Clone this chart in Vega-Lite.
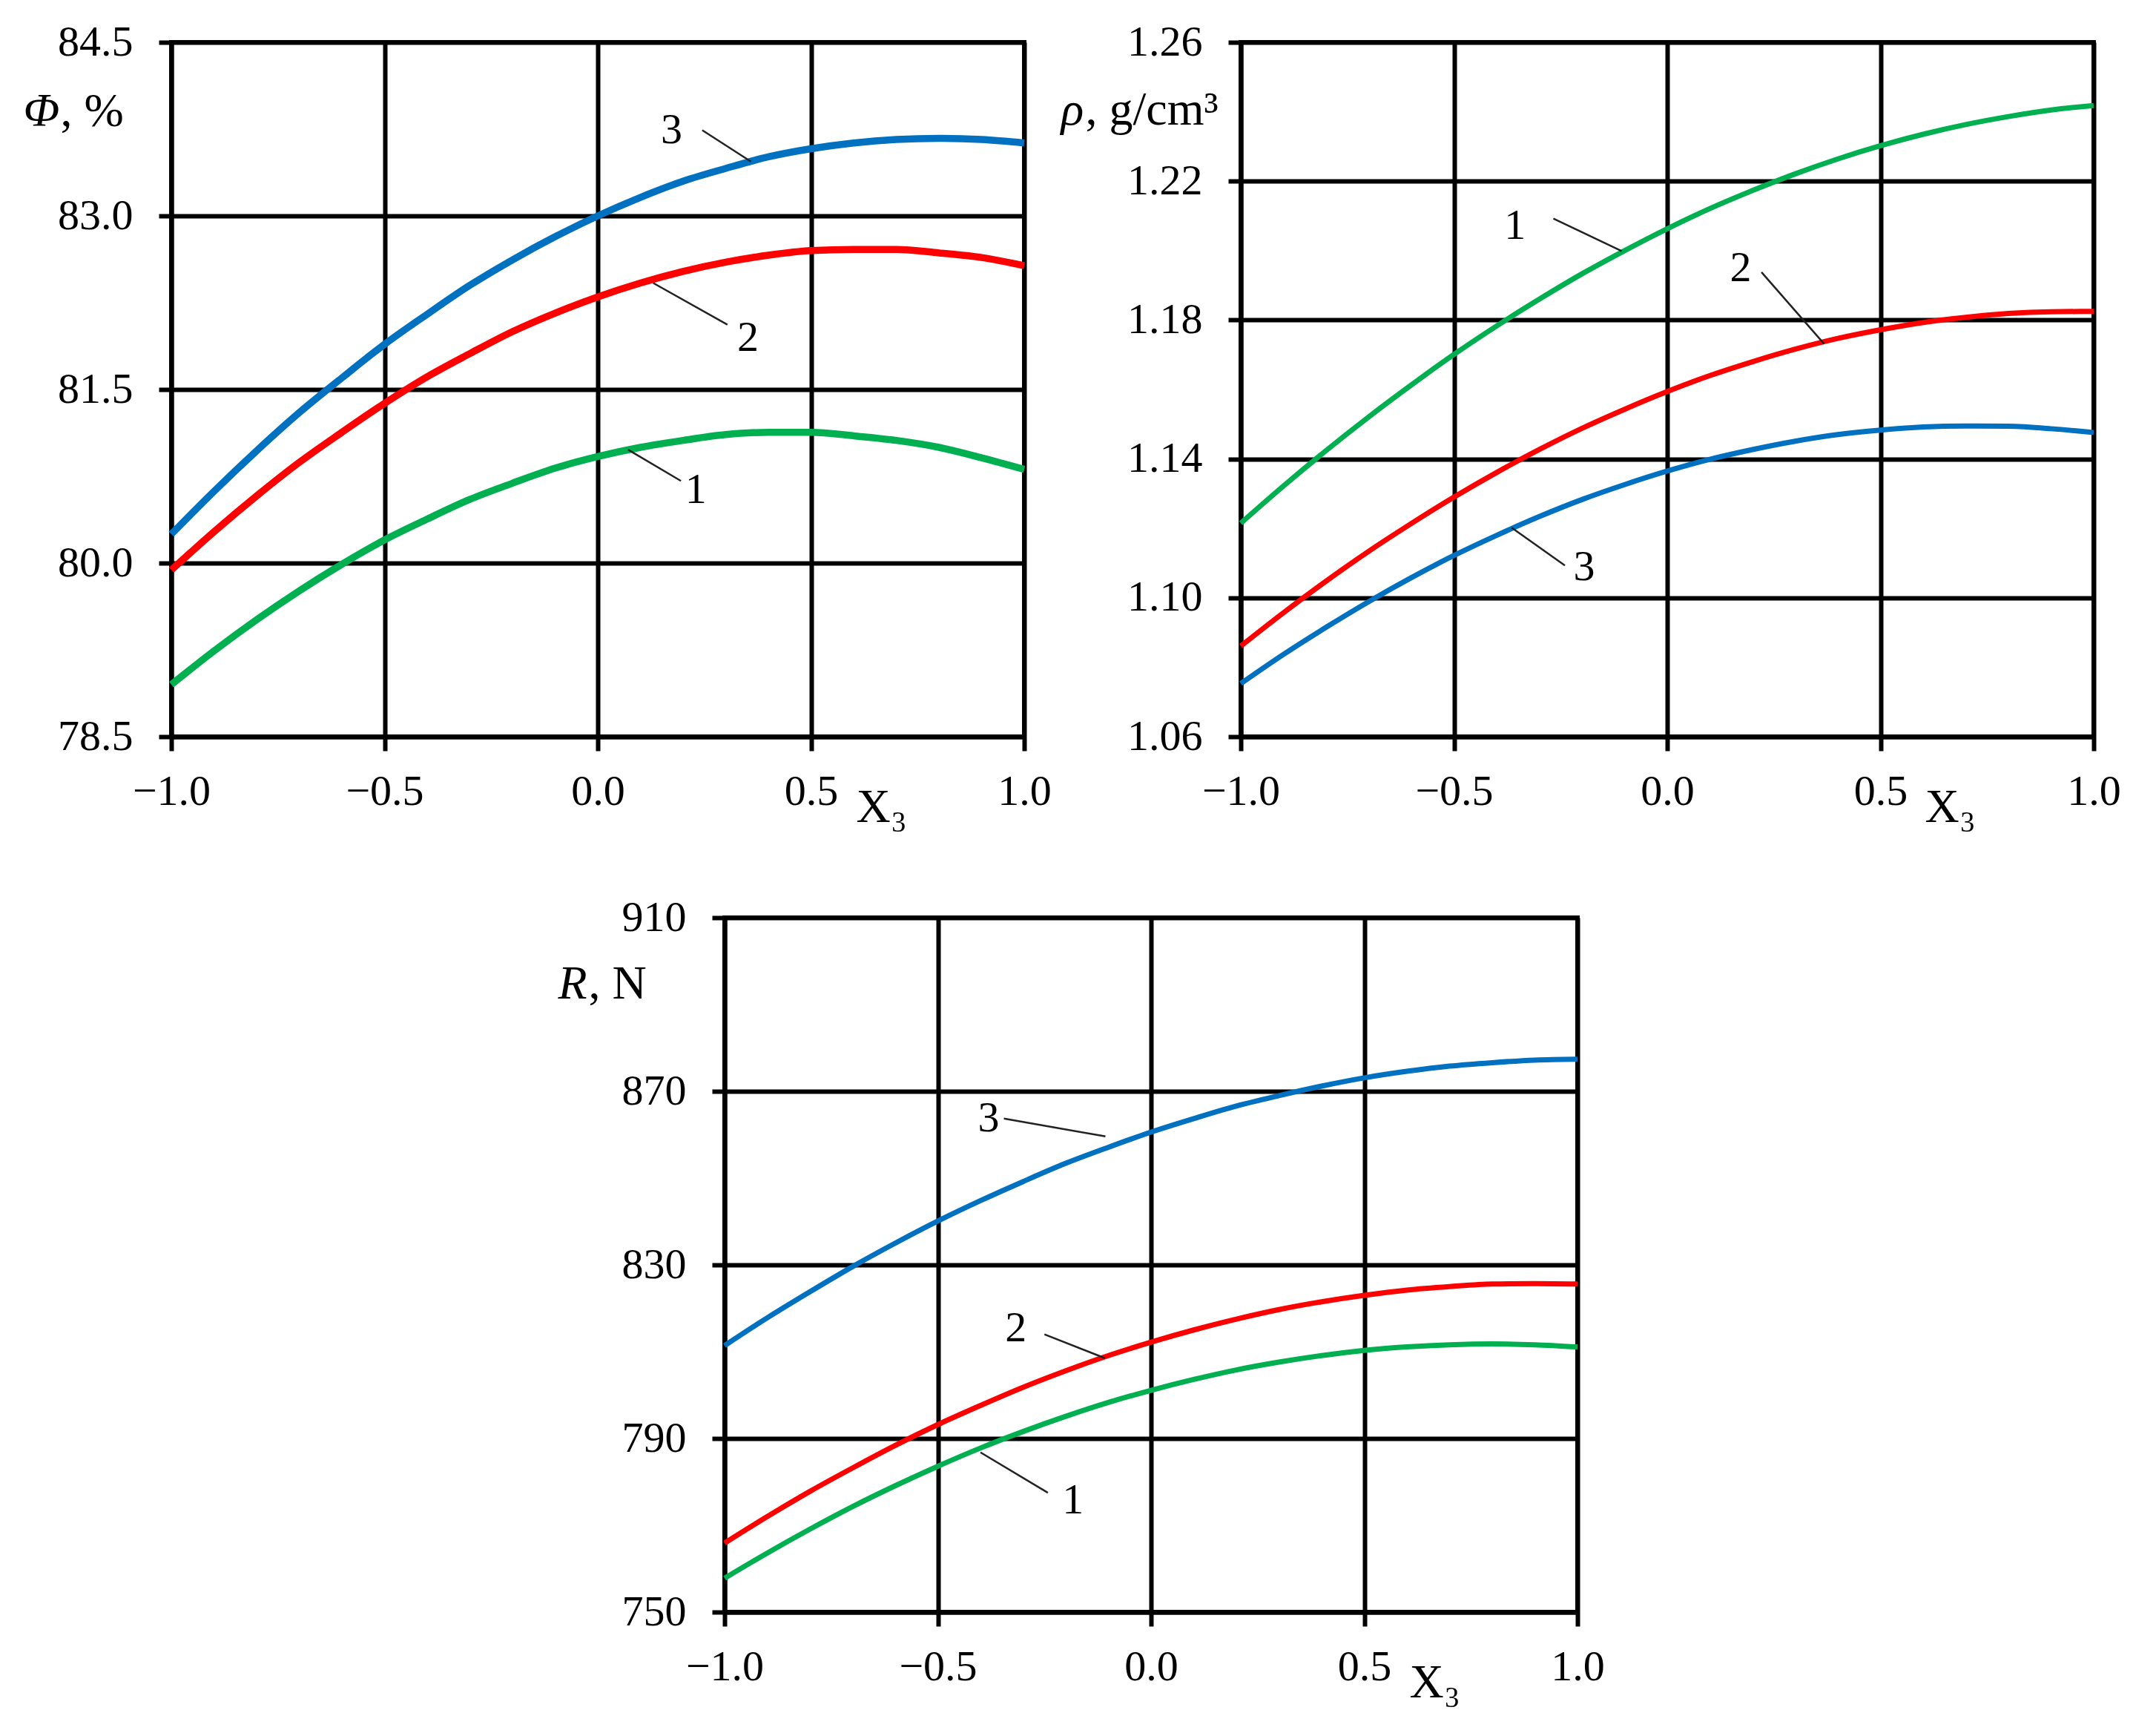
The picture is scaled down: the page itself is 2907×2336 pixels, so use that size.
{
  "$schema": "https://vega.github.io/schema/vega-lite/v6.json",
  "background": "white",
  "padding": {"left": 28, "top": 25, "right": 20, "bottom": 20},
  "config": {
    "font": "Liberation Serif",
    "view": {"stroke": "black", "strokeWidth": 6},
    "axis": {
      "labelFont": "Liberation Serif", "labelFontSize": 58, "labelColor": "black",
      "titleFont": "Liberation Serif", "titleFontSize": 64, "titleFontWeight": "normal", "titleColor": "black",
      "domainColor": "black", "domainWidth": 6,
      "tickColor": "black", "tickWidth": 6,
      "gridColor": "black", "gridWidth": 6, "gridOpacity": 1,
      "titleAngle": 0, "titleAlign": "left", "titleBaseline": "alphabetic",
      "labelOverlap": false, "labelFlush": false
    },
    "axisX": {"tickSize": 19, "labelPadding": 26},
    "axisY": {"tickSize": 17, "labelPadding": 35, "labelBaseline": "middle"}
  },
  "datasets": {
    "phi": [
      {"x":-1,"y":78.95,"c":"1"},{"x":-0.9,"y":79.24,"c":"1"},{"x":-0.8,"y":79.51,"c":"1"},{"x":-0.7,"y":79.76,"c":"1"},{"x":-0.6,"y":79.99,"c":"1"},{"x":-0.5,"y":80.20,"c":"1"},{"x":-0.4,"y":80.38,"c":"1"},{"x":-0.3,"y":80.55,"c":"1"},{"x":-0.2,"y":80.69,"c":"1"},{"x":-0.1,"y":80.82,"c":"1"},{"x":0,"y":80.92,"c":"1"},{"x":0.1,"y":81.00,"c":"1"},{"x":0.2,"y":81.06,"c":"1"},{"x":0.3,"y":81.11,"c":"1"},{"x":0.4,"y":81.13,"c":"1"},{"x":0.5,"y":81.13,"c":"1"},{"x":0.6,"y":81.10,"c":"1"},{"x":0.7,"y":81.06,"c":"1"},{"x":0.8,"y":81.00,"c":"1"},{"x":0.9,"y":80.91,"c":"1"},{"x":1,"y":80.81,"c":"1"},
      {"x":-1,"y":79.94,"c":"2"},{"x":-0.9,"y":80.27,"c":"2"},{"x":-0.8,"y":80.58,"c":"2"},{"x":-0.7,"y":80.87,"c":"2"},{"x":-0.6,"y":81.13,"c":"2"},{"x":-0.5,"y":81.38,"c":"2"},{"x":-0.4,"y":81.61,"c":"2"},{"x":-0.3,"y":81.81,"c":"2"},{"x":-0.2,"y":82.00,"c":"2"},{"x":-0.1,"y":82.16,"c":"2"},{"x":0,"y":82.30,"c":"2"},{"x":0.1,"y":82.42,"c":"2"},{"x":0.2,"y":82.52,"c":"2"},{"x":0.3,"y":82.60,"c":"2"},{"x":0.4,"y":82.66,"c":"2"},{"x":0.5,"y":82.70,"c":"2"},{"x":0.6,"y":82.71,"c":"2"},{"x":0.7,"y":82.71,"c":"2"},{"x":0.8,"y":82.68,"c":"2"},{"x":0.9,"y":82.64,"c":"2"},{"x":1,"y":82.57,"c":"2"},
      {"x":-1,"y":80.25,"c":"3"},{"x":-0.9,"y":80.62,"c":"3"},{"x":-0.8,"y":80.97,"c":"3"},{"x":-0.7,"y":81.30,"c":"3"},{"x":-0.6,"y":81.60,"c":"3"},{"x":-0.5,"y":81.89,"c":"3"},{"x":-0.4,"y":82.15,"c":"3"},{"x":-0.3,"y":82.40,"c":"3"},{"x":-0.2,"y":82.62,"c":"3"},{"x":-0.1,"y":82.82,"c":"3"},{"x":0,"y":83.00,"c":"3"},{"x":0.1,"y":83.16,"c":"3"},{"x":0.2,"y":83.30,"c":"3"},{"x":0.3,"y":83.41,"c":"3"},{"x":0.4,"y":83.51,"c":"3"},{"x":0.5,"y":83.58,"c":"3"},{"x":0.6,"y":83.63,"c":"3"},{"x":0.7,"y":83.66,"c":"3"},{"x":0.8,"y":83.67,"c":"3"},{"x":0.9,"y":83.66,"c":"3"},{"x":1,"y":83.63,"c":"3"}
    ],
    "rho": [
      {"x":-1,"y":1.1215,"c":"1"},{"x":-0.9,"y":1.1322,"c":"1"},{"x":-0.8,"y":1.1424,"c":"1"},{"x":-0.7,"y":1.1521,"c":"1"},{"x":-0.6,"y":1.1613,"c":"1"},{"x":-0.5,"y":1.1701,"c":"1"},{"x":-0.4,"y":1.1783,"c":"1"},{"x":-0.3,"y":1.1860,"c":"1"},{"x":-0.2,"y":1.1933,"c":"1"},{"x":-0.1,"y":1.2000,"c":"1"},{"x":0,"y":1.2063,"c":"1"},{"x":0.1,"y":1.2121,"c":"1"},{"x":0.2,"y":1.2173,"c":"1"},{"x":0.3,"y":1.2221,"c":"1"},{"x":0.4,"y":1.2264,"c":"1"},{"x":0.5,"y":1.2302,"c":"1"},{"x":0.6,"y":1.2335,"c":"1"},{"x":0.7,"y":1.2363,"c":"1"},{"x":0.8,"y":1.2386,"c":"1"},{"x":0.9,"y":1.2405,"c":"1"},{"x":1,"y":1.2418,"c":"1"},
      {"x":-1,"y":1.0861,"c":"2"},{"x":-0.9,"y":1.0957,"c":"2"},{"x":-0.8,"y":1.1048,"c":"2"},{"x":-0.7,"y":1.1134,"c":"2"},{"x":-0.6,"y":1.1214,"c":"2"},{"x":-0.5,"y":1.1290,"c":"2"},{"x":-0.4,"y":1.1361,"c":"2"},{"x":-0.3,"y":1.1427,"c":"2"},{"x":-0.2,"y":1.1488,"c":"2"},{"x":-0.1,"y":1.1543,"c":"2"},{"x":0,"y":1.1594,"c":"2"},{"x":0.1,"y":1.1640,"c":"2"},{"x":0.2,"y":1.1680,"c":"2"},{"x":0.3,"y":1.1716,"c":"2"},{"x":0.4,"y":1.1747,"c":"2"},{"x":0.5,"y":1.1772,"c":"2"},{"x":0.6,"y":1.1793,"c":"2"},{"x":0.7,"y":1.1808,"c":"2"},{"x":0.8,"y":1.1819,"c":"2"},{"x":0.9,"y":1.1824,"c":"2"},{"x":1,"y":1.1825,"c":"2"},
      {"x":-1,"y":1.0753,"c":"3"},{"x":-0.9,"y":1.0837,"c":"3"},{"x":-0.8,"y":1.0915,"c":"3"},{"x":-0.7,"y":1.0989,"c":"3"},{"x":-0.6,"y":1.1058,"c":"3"},{"x":-0.5,"y":1.1122,"c":"3"},{"x":-0.4,"y":1.1180,"c":"3"},{"x":-0.3,"y":1.1234,"c":"3"},{"x":-0.2,"y":1.1283,"c":"3"},{"x":-0.1,"y":1.1326,"c":"3"},{"x":0,"y":1.1365,"c":"3"},{"x":0.1,"y":1.1399,"c":"3"},{"x":0.2,"y":1.1427,"c":"3"},{"x":0.3,"y":1.1451,"c":"3"},{"x":0.4,"y":1.1470,"c":"3"},{"x":0.5,"y":1.1483,"c":"3"},{"x":0.6,"y":1.1492,"c":"3"},{"x":0.7,"y":1.1495,"c":"3"},{"x":0.8,"y":1.1494,"c":"3"},{"x":0.9,"y":1.1487,"c":"3"},{"x":1,"y":1.1476,"c":"3"}
    ],
    "force": [
      {"x":-1,"y":757.8,"c":"1"},{"x":-0.9,"y":763.6,"c":"1"},{"x":-0.8,"y":769.1,"c":"1"},{"x":-0.7,"y":774.3,"c":"1"},{"x":-0.6,"y":779.1,"c":"1"},{"x":-0.5,"y":783.6,"c":"1"},{"x":-0.4,"y":787.8,"c":"1"},{"x":-0.3,"y":791.6,"c":"1"},{"x":-0.2,"y":795.1,"c":"1"},{"x":-0.1,"y":798.3,"c":"1"},{"x":0,"y":801.1,"c":"1"},{"x":0.1,"y":803.6,"c":"1"},{"x":0.2,"y":805.8,"c":"1"},{"x":0.3,"y":807.6,"c":"1"},{"x":0.4,"y":809.1,"c":"1"},{"x":0.5,"y":810.3,"c":"1"},{"x":0.6,"y":811.1,"c":"1"},{"x":0.7,"y":811.6,"c":"1"},{"x":0.8,"y":811.8,"c":"1"},{"x":0.9,"y":811.6,"c":"1"},{"x":1,"y":811.1,"c":"1"},
      {"x":-1,"y":765.9,"c":"2"},{"x":-0.9,"y":772.0,"c":"2"},{"x":-0.8,"y":777.8,"c":"2"},{"x":-0.7,"y":783.2,"c":"2"},{"x":-0.6,"y":788.4,"c":"2"},{"x":-0.5,"y":793.2,"c":"2"},{"x":-0.4,"y":797.6,"c":"2"},{"x":-0.3,"y":801.8,"c":"2"},{"x":-0.2,"y":805.6,"c":"2"},{"x":-0.1,"y":809.1,"c":"2"},{"x":0,"y":812.2,"c":"2"},{"x":0.1,"y":815.0,"c":"2"},{"x":0.2,"y":817.5,"c":"2"},{"x":0.3,"y":819.7,"c":"2"},{"x":0.4,"y":821.5,"c":"2"},{"x":0.5,"y":823.0,"c":"2"},{"x":0.6,"y":824.2,"c":"2"},{"x":0.7,"y":825.0,"c":"2"},{"x":0.8,"y":825.6,"c":"2"},{"x":0.9,"y":825.7,"c":"2"},{"x":1,"y":825.6,"c":"2"},
      {"x":-1,"y":811.4,"c":"3"},{"x":-0.9,"y":817.8,"c":"3"},{"x":-0.8,"y":823.8,"c":"3"},{"x":-0.7,"y":829.6,"c":"3"},{"x":-0.6,"y":835.0,"c":"3"},{"x":-0.5,"y":840.1,"c":"3"},{"x":-0.4,"y":844.8,"c":"3"},{"x":-0.3,"y":849.2,"c":"3"},{"x":-0.2,"y":853.4,"c":"3"},{"x":-0.1,"y":857.1,"c":"3"},{"x":0,"y":860.6,"c":"3"},{"x":0.1,"y":863.7,"c":"3"},{"x":0.2,"y":866.6,"c":"3"},{"x":0.3,"y":869.0,"c":"3"},{"x":0.4,"y":871.2,"c":"3"},{"x":0.5,"y":873.1,"c":"3"},{"x":0.6,"y":874.6,"c":"3"},{"x":0.7,"y":875.8,"c":"3"},{"x":0.8,"y":876.6,"c":"3"},{"x":0.9,"y":877.2,"c":"3"},{"x":1,"y":877.4,"c":"3"}
    ],
    "phiNotes": [{"x":0.173,"y":83.74,"t":"3"},{"x":0.352,"y":81.94,"t":"2"},{"x":0.230,"y":80.63,"t":"1"}],
    "phiLeads": [{"x":0.245,"y":83.74,"x2":0.359,"y2":83.47},{"x":0.304,"y":82.06,"x2":0.130,"y2":82.42},{"x":0.195,"y":80.71,"x2":0.071,"y2":80.98}],
    "rhoNotes": [{"x":-0.357,"y":1.2070,"t":"1"},{"x":0.172,"y":1.1949,"t":"2"},{"x":-0.195,"y":1.1088,"t":"3"}],
    "rhoLeads": [{"x":-0.267,"y":1.2092,"x2":-0.107,"y2":1.1999},{"x":0.221,"y":1.1938,"x2":0.368,"y2":1.1731},{"x":-0.240,"y":1.1093,"x2":-0.365,"y2":1.1202}],
    "forceNotes": [{"x":-0.381,"y":863.7,"t":"3"},{"x":-0.317,"y":815.3,"t":"2"},{"x":-0.183,"y":775.6,"t":"1"}],
    "forceLeads": [{"x":-0.345,"y":863.7,"x2":-0.107,"y2":859.6},{"x":-0.25,"y":814.0,"x2":-0.108,"y2":808.5},{"x":-0.242,"y":777.5,"x2":-0.40,"y2":786.8}]
  },
  "vconcat": [
    {
      "bounds": "flush",
      "spacing": 292,
      "hconcat": [
        {
          "width": 1150,
          "height": 936,
          "layer": [
            {
              "data": {"name": "phi"},
              "mark": {"type": "line", "strokeWidth": 9.5, "interpolate": "monotone"},
              "encoding": {
                "x": {"field": "x", "type": "quantitative", "scale": {"domain": [-1, 1], "nice": false},
                      "axis": {"values": [-1, -0.5, 0, 0.5, 1], "format": ".1f", "title": "X₃", "titleX": 923, "titleY": 114}},
                "y": {"field": "y", "type": "quantitative", "scale": {"domain": [78.5, 84.5], "nice": false, "zero": false},
                      "axis": {"orient": "left", "values": [78.5, 80, 81.5, 83, 84.5], "format": ".1f", "title": ", %", "titleX": -150, "titleY": 112}},
                "color": {"field": "c", "type": "nominal", "legend": null,
                          "scale": {"domain": ["1", "2", "3"], "range": ["#00B050", "#FF0000", "#0070C0"]}}
              }
            },
            {
              "data": {"name": "phiLeads"},
              "mark": {"type": "rule", "strokeWidth": 2.5, "color": "#222222"},
              "encoding": {
                "x": {"field": "x", "type": "quantitative"},
                "y": {"field": "y", "type": "quantitative", "axis": null},
                "x2": {"field": "x2"},
                "y2": {"field": "y2"}
              }
            },
            {
              "data": {"name": "phiNotes"},
              "mark": {"type": "text", "fontSize": 58, "color": "black", "baseline": "middle", "align": "center"},
              "encoding": {
                "x": {"field": "x", "type": "quantitative"},
                "y": {"field": "y", "type": "quantitative",
                      "axis": {"orient": "left", "title": "Φ", "titleFontStyle": "italic", "titleX": -200, "titleY": 112,
                               "labels": false, "ticks": false, "domain": false, "grid": false}},
                "text": {"field": "t"}
              }
            }
          ],
          "resolve": {"axis": {"y": "independent"}}
        },
        {
          "width": 1150,
          "height": 936,
          "layer": [
            {
              "data": {"name": "rho"},
              "mark": {"type": "line", "strokeWidth": 7, "interpolate": "monotone"},
              "encoding": {
                "x": {"field": "x", "type": "quantitative", "scale": {"domain": [-1, 1], "nice": false},
                      "axis": {"values": [-1, -0.5, 0, 0.5, 1], "format": ".1f", "title": "X₃", "titleX": 922, "titleY": 114}},
                "y": {"field": "y", "type": "quantitative", "scale": {"domain": [1.06, 1.26], "nice": false, "zero": false},
                      "axis": {"orient": "left", "values": [1.06, 1.10, 1.14, 1.18, 1.22, 1.26], "format": ".2f", "title": ", g/cm³", "titleX": -210, "titleY": 110}},
                "color": {"field": "c", "type": "nominal", "legend": null,
                          "scale": {"domain": ["1", "2", "3"], "range": ["#00B050", "#FF0000", "#0070C0"]}}
              }
            },
            {
              "data": {"name": "rhoLeads"},
              "mark": {"type": "rule", "strokeWidth": 2.5, "color": "#222222"},
              "encoding": {
                "x": {"field": "x", "type": "quantitative"},
                "y": {"field": "y", "type": "quantitative", "axis": null},
                "x2": {"field": "x2"},
                "y2": {"field": "y2"}
              }
            },
            {
              "data": {"name": "rhoNotes"},
              "mark": {"type": "text", "fontSize": 58, "color": "black", "baseline": "middle", "align": "center"},
              "encoding": {
                "x": {"field": "x", "type": "quantitative"},
                "y": {"field": "y", "type": "quantitative",
                      "axis": {"orient": "left", "title": "ρ", "titleFontStyle": "italic", "titleX": -243, "titleY": 110,
                               "labels": false, "ticks": false, "domain": false, "grid": false}},
                "text": {"field": "t"}
              }
            }
          ],
          "resolve": {"axis": {"y": "independent"}}
        }
      ]
    },
    {
      "bounds": "flush",
      "spacing": 0,
      "hconcat": [
        {
          "width": 746,
          "height": 936,
          "view": {"stroke": null, "fill": "white"},
          "data": {"values": []},
          "mark": "point"
        },
        {
          "width": 1150,
          "height": 936,
          "layer": [
            {
              "data": {"name": "force"},
              "mark": {"type": "line", "strokeWidth": 7, "interpolate": "monotone"},
              "encoding": {
                "x": {"field": "x", "type": "quantitative", "scale": {"domain": [-1, 1], "nice": false},
                      "axis": {"values": [-1, -0.5, 0, 0.5, 1], "format": ".1f", "title": "X₃", "titleX": 923, "titleY": 114}},
                "y": {"field": "y", "type": "quantitative", "scale": {"domain": [750, 910], "nice": false, "zero": false},
                      "axis": {"orient": "left", "values": [750, 790, 830, 870, 910], "format": "d", "title": ", N", "titleX": -184, "titleY": 108}},
                "color": {"field": "c", "type": "nominal", "legend": null,
                          "scale": {"domain": ["1", "2", "3"], "range": ["#00B050", "#FF0000", "#0070C0"]}}
              }
            },
            {
              "data": {"name": "forceLeads"},
              "mark": {"type": "rule", "strokeWidth": 2.5, "color": "#222222"},
              "encoding": {
                "x": {"field": "x", "type": "quantitative"},
                "y": {"field": "y", "type": "quantitative", "axis": null},
                "x2": {"field": "x2"},
                "y2": {"field": "y2"}
              }
            },
            {
              "data": {"name": "forceNotes"},
              "mark": {"type": "text", "fontSize": 58, "color": "black", "baseline": "middle", "align": "center"},
              "encoding": {
                "x": {"field": "x", "type": "quantitative"},
                "y": {"field": "y", "type": "quantitative",
                      "axis": {"orient": "left", "title": "R", "titleFontStyle": "italic", "titleX": -225, "titleY": 108,
                               "labels": false, "ticks": false, "domain": false, "grid": false}},
                "text": {"field": "t"}
              }
            }
          ],
          "resolve": {"axis": {"y": "independent"}}
        }
      ]
    }
  ],
  "spacing": 82
}
